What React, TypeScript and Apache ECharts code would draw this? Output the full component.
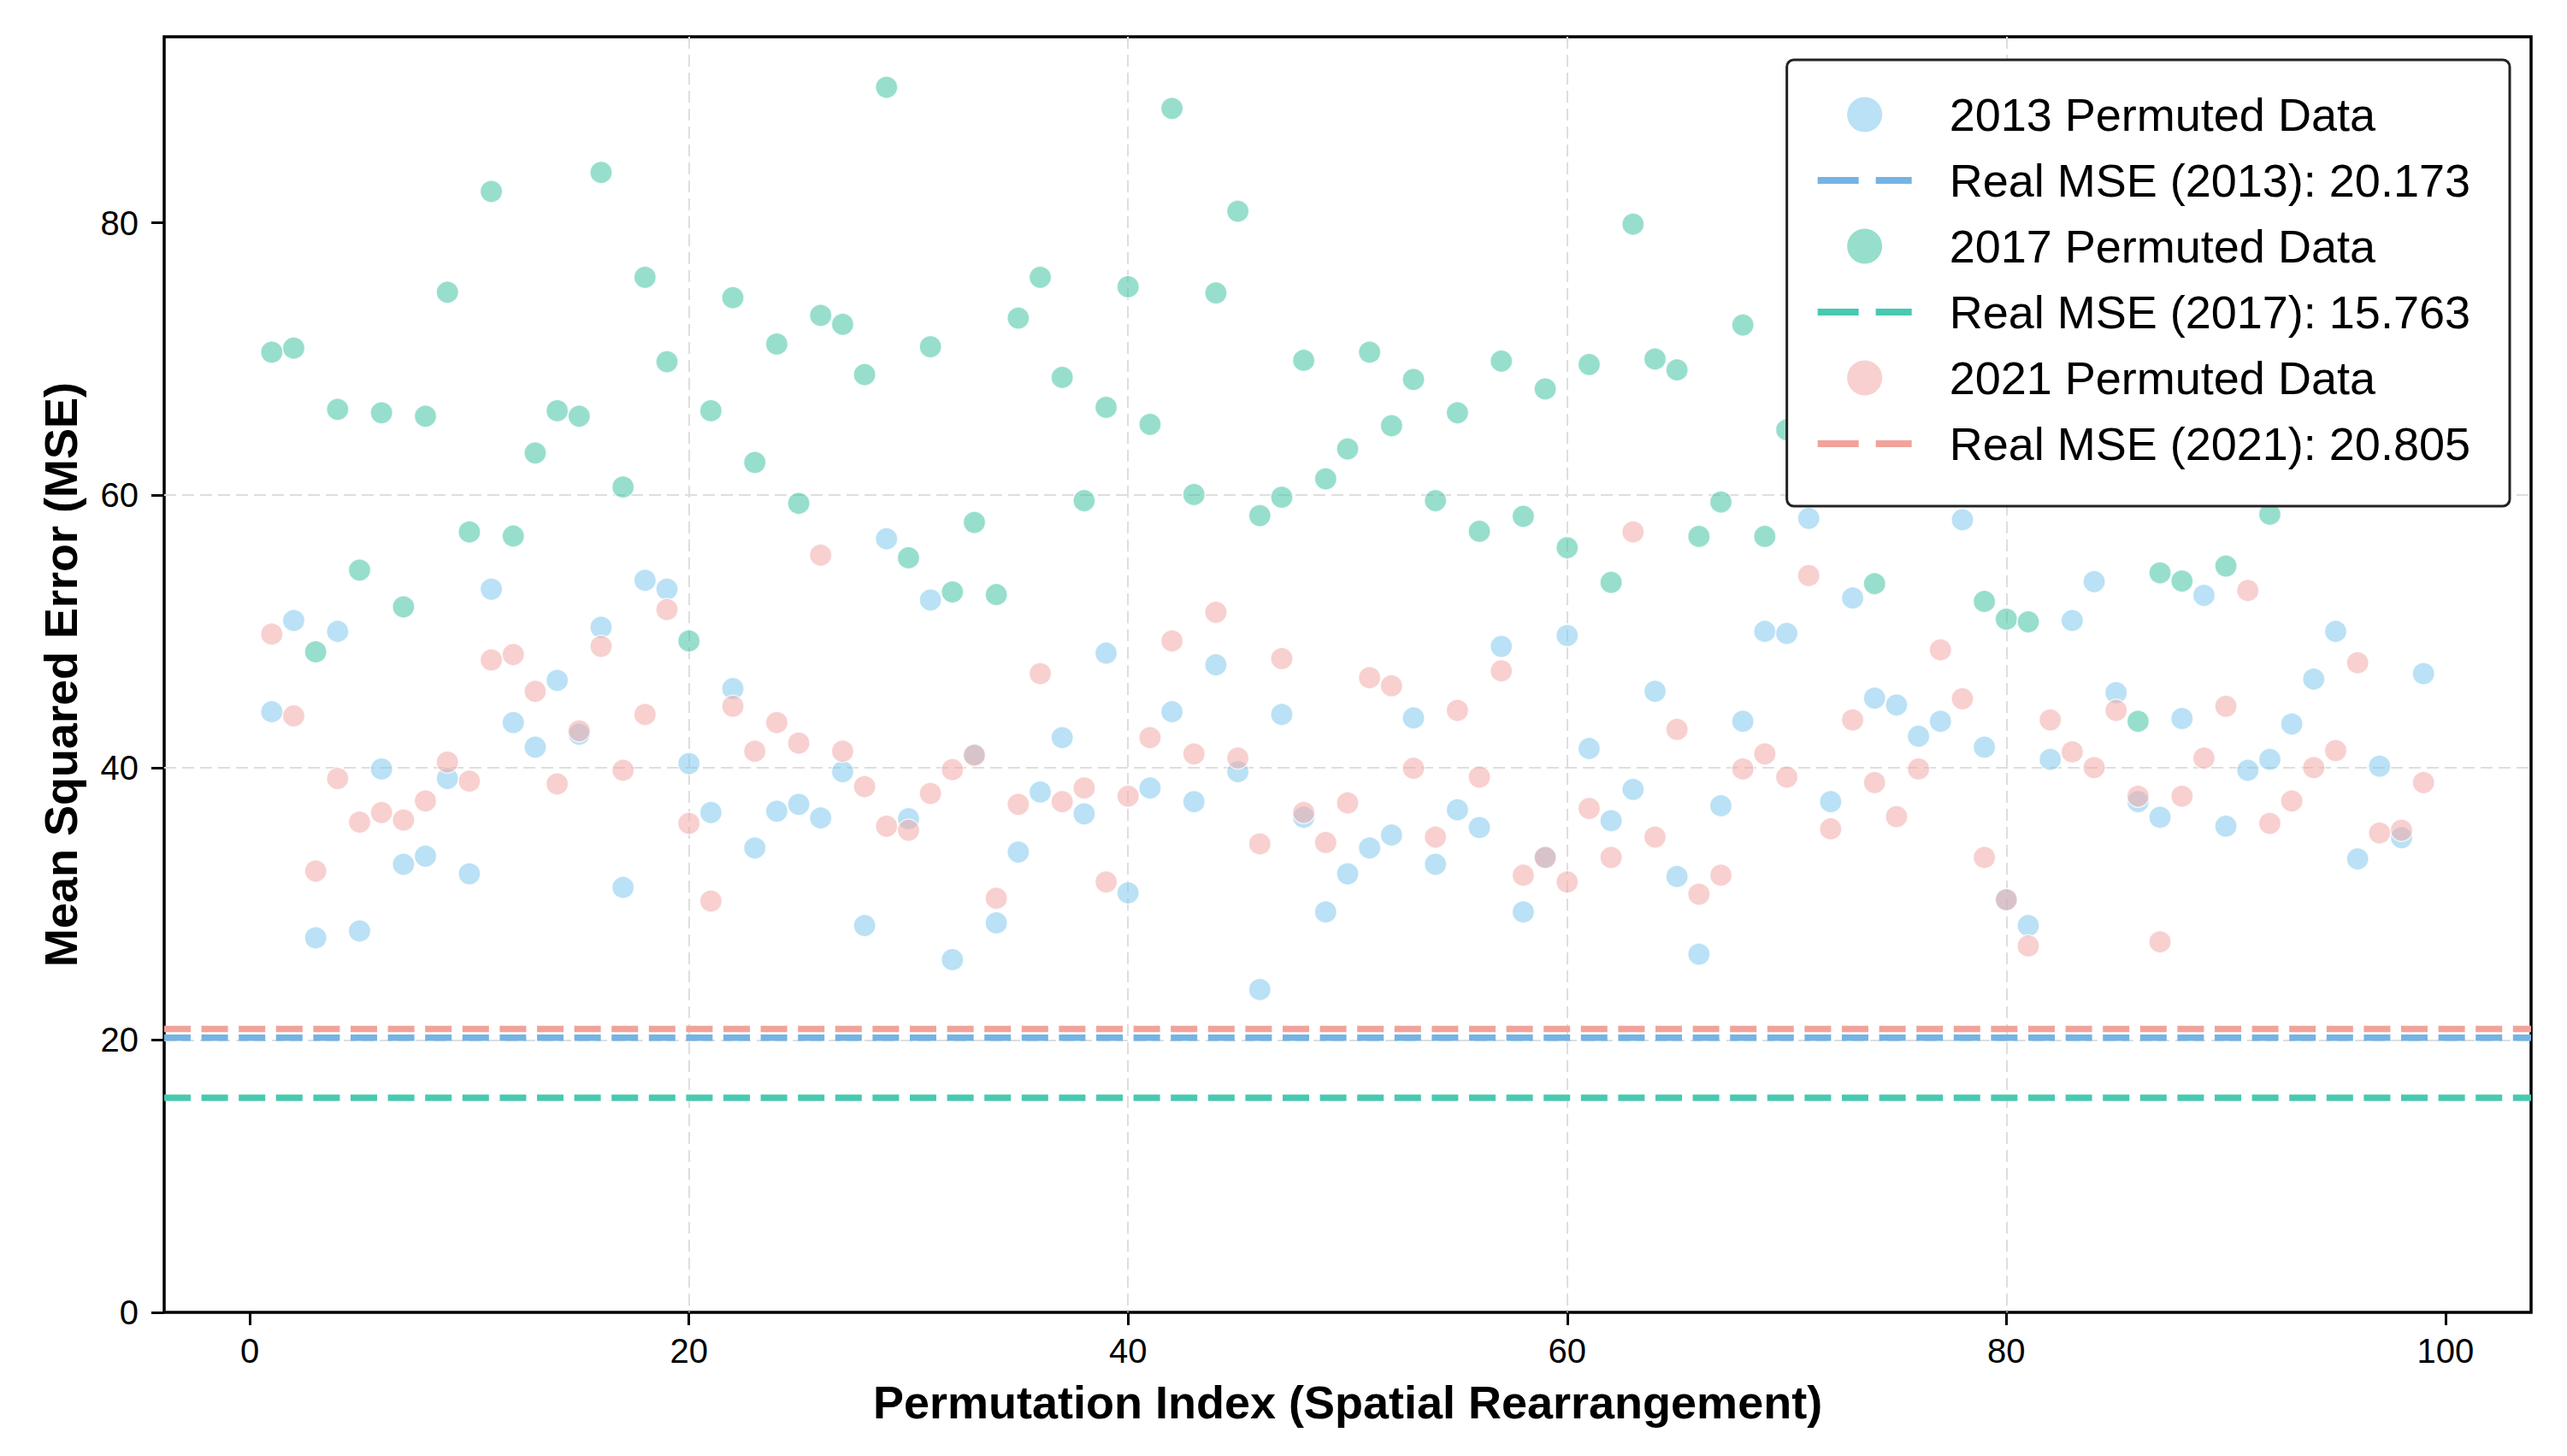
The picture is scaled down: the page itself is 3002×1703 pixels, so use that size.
import React, { useEffect, useRef } from "react";
import * as echarts from "echarts";

// ---------------- data ----------------
const PERM_INDEX: number[] = Array.from({ length: 99 }, (_, i) => i + 1);

const MSE_2013: number[] = [
  44.1, 50.8, 27.5, 50.0, 28.0, 39.9, 32.9, 33.5, 39.2, 32.2,
  53.1, 43.3, 41.5, 46.4, 42.45, 50.3, 31.2, 53.75, 53.1, 40.3,
  36.7, 45.8, 34.1, 36.8, 37.3, 36.3, 39.7, 28.4, 56.8, 36.25,
  52.3, 25.9, 40.96, 28.6, 33.8, 38.2, 42.2, 36.6, 48.4, 30.8,
  38.5, 44.1, 37.5, 47.55, 39.7, 23.7, 43.9, 36.35, 29.4, 32.2,
  34.1, 35.05, 43.65, 32.9, 36.9, 35.6, 48.9, 29.4, 33.4, 49.7,
  41.4, 36.1, 38.4, 45.6, 32.0, 26.3, 37.2, 43.4, 50.0, 49.85,
  58.3, 37.5, 52.45, 45.1, 44.6, 42.3, 43.4, 58.2, 41.5, 30.3,
  28.4, 40.6, 50.8, 53.65, 45.5, 37.5, 36.35, 43.6, 52.65, 35.7,
  39.8, 40.6, 43.2, 46.5, 50.0, 33.3, 40.1, 34.85, 46.9,
];

const MSE_2017: number[] = [
  70.5, 70.8, 48.5, 66.3, 54.5, 66.05, 51.8, 65.8, 74.9, 57.3,
  82.3, 57.0, 63.1, 66.2, 65.8, 83.7, 60.6, 76.0, 69.8, 49.3,
  66.2, 74.5, 62.4, 71.1, 59.4, 73.2, 72.55, 68.85, 89.95, 55.4,
  70.9, 52.9, 58.0, 52.7, 73.0, 76.0, 68.65, 59.6, 66.45, 75.3,
  65.2, 88.4, 60.05, 74.85, 80.85, 58.5, 59.85, 69.9, 61.2, 63.4,
  70.5, 65.1, 68.5, 59.6, 66.05, 57.35, 69.85, 58.45, 67.8, 56.15,
  69.6, 53.6, 79.9, 70.0, 69.2, 56.97, 59.5, 72.5, 56.97, 64.8,
  68.2, 74.6, 63.9, 53.5, 77.3, 66.8, 71.5, 62.4, 52.2, 50.9,
  50.7, 69.1, 75.8, 64.7, 72.3, 43.4, 54.3, 53.7, 67.5, 54.8,
  79.2, 58.6, 65.3, 70.8, 62.9, 74.1, 68.6, 76.4, 63.7,
];

const MSE_2021: number[] = [
  49.8, 43.8, 32.4, 39.2, 36.0, 36.7, 36.15, 37.55, 40.4, 39.0,
  47.9, 48.3, 45.6, 38.8, 42.7, 48.9, 39.8, 43.9, 51.6, 35.9,
  30.2, 44.5, 41.2, 43.3, 41.8, 55.6, 41.2, 38.6, 35.7, 35.4,
  38.1, 39.85, 40.9, 30.4, 37.3, 46.9, 37.5, 38.5, 31.6, 37.9,
  42.2, 49.3, 41.0, 51.4, 40.7, 34.4, 48.0, 36.7, 34.5, 37.4,
  46.6, 46.0, 39.95, 34.9, 44.2, 39.3, 47.1, 32.1, 33.4, 31.6,
  37.0, 33.4, 57.3, 34.9, 42.8, 30.7, 32.1, 39.9, 41.0, 39.3,
  54.1, 35.5, 43.5, 38.9, 36.4, 39.9, 48.65, 45.05, 33.4, 30.3,
  26.9, 43.5, 41.15, 40.0, 44.2, 37.9, 27.2, 37.9, 40.7, 44.5,
  53.0, 35.9, 37.55, 40.0, 41.25, 47.7, 35.2, 35.4, 38.9,
];

const REAL_MSE_2013 = 20.173;
const REAL_MSE_2017 = 15.763;
const REAL_MSE_2021 = 20.805;

const X_TICKS: number[] = [0, 20, 40, 60, 80, 100];
const Y_TICKS: number[] = [0, 20, 40, 60, 80];
const X_MIN = -3.9;
const X_MAX = 103.9;
const Y_MIN = 0;
const Y_MAX = 93.66;

const NAME_P13 = "2013 Permuted Data";
const NAME_L13 = `Real MSE (2013): ${REAL_MSE_2013.toFixed(3)}`;
const NAME_P17 = "2017 Permuted Data";
const NAME_L17 = `Real MSE (2017): ${REAL_MSE_2017.toFixed(3)}`;
const NAME_P21 = "2021 Permuted Data";
const NAME_L21 = `Real MSE (2021): ${REAL_MSE_2021.toFixed(3)}`;

const COLOR_P13 = "rgba(132,202,238,0.7)";
const COLOR_P17 = "rgba(69,196,165,0.7)";
const COLOR_P21 = "rgba(241,172,169,0.7)";
const COLOR_L13 = "#74b3e4";
const COLOR_L17 = "#48c9b0";
const COLOR_L21 = "#f1a39a";

const FONT = "'Liberation Sans', Arial, Helvetica, sans-serif";
const DASH_ICON = "path://M0,0H48V8H0Z M68,0H110V8H68Z";

function pairs(values: number[]): number[][] {
  return PERM_INDEX.map((x, i) => [x, values[i]]);
}

export default function App() {
  const ref = useRef<HTMLDivElement | null>(null);

  useEffect(() => {
    if (!ref.current) return;
    const chart = echarts.init(ref.current, null, { renderer: "svg" });

    const scatter = (name: string, values: number[], color: string) => ({
      type: "scatter",
      name,
      data: pairs(values),
      symbolSize: 26,
      silent: true,
      itemStyle: {
        color,
        borderColor: "rgba(255,255,255,0.9)",
        borderWidth: 1.5,
      },
      z: 2,
    });

    const hline = (name: string, value: number, color: string) => ({
      type: "line",
      name,
      data: [
        [X_MIN, value],
        [X_MAX, value],
      ],
      symbol: "none",
      silent: true,
      lineStyle: { color, width: 7.5, type: [31, 12.6] },
      itemStyle: { color },
      z: 3,
    });

    const legendPoint = (name: string, color: string) => ({
      name,
      icon: "circle",
      itemStyle: { color, borderWidth: 0 },
    });

    const legendLine = (name: string, color: string) => ({
      name,
      icon: DASH_ICON,
      itemStyle: { color, borderWidth: 0 },
    });

    const axisNameStyle = {
      fontFamily: FONT,
      fontSize: 54,
      fontWeight: "bold",
      color: "#000",
    };

    const option: any = {
      animation: false,
      backgroundColor: "#ffffff",
      grid: {
        left: 192,
        right: 42,
        top: 43,
        bottom: 168,
        show: true,
        borderColor: "#000",
        borderWidth: 3.5,
        backgroundColor: "transparent",
        outerBoundsMode: "none",
      },
      xAxis: {
        type: "value",
        min: X_MIN,
        max: X_MAX,
        name: "Permutation Index (Spatial Rearrangement)",
        nameLocation: "middle",
        nameGap: 78,
        nameTextStyle: axisNameStyle,
        axisLine: { show: false, onZero: false },
        axisTick: {
          show: true,
          length: 15,
          customValues: X_TICKS,
          lineStyle: { color: "#000", width: 3 },
        },
        axisLabel: {
          customValues: X_TICKS,
          fontFamily: FONT,
          fontSize: 40,
          color: "#000",
          margin: 25,
        },
        splitLine: {
          show: true,
          showMinLine: false,
          showMaxLine: false,
          lineStyle: { color: "#dedede", width: 2, type: [14, 7] },
        },
      },
      yAxis: {
        type: "value",
        min: Y_MIN,
        max: Y_MAX,
        name: "Mean Squared Error (MSE)",
        nameLocation: "middle",
        nameGap: 94,
        nameTextStyle: axisNameStyle,
        axisLine: { show: false, onZero: false },
        axisTick: {
          show: true,
          length: 15,
          customValues: Y_TICKS,
          lineStyle: { color: "#000", width: 3 },
        },
        axisLabel: {
          customValues: Y_TICKS,
          fontFamily: FONT,
          fontSize: 40,
          color: "#000",
          margin: 30,
        },
        splitLine: {
          show: true,
          showMinLine: false,
          showMaxLine: false,
          lineStyle: { color: "#dedede", width: 2, type: [14, 7] },
        },
      },
      legend: {
        orient: "vertical",
        right: 67,
        top: 70,
        backgroundColor: "#ffffff",
        borderColor: "#222",
        borderWidth: 3,
        borderRadius: 8,
        padding: [37, 46, 46, 36],
        itemWidth: 110,
        itemHeight: 41,
        itemGap: 23,
        symbolKeepAspect: true,
        selectedMode: false,
        textStyle: {
          fontFamily: FONT,
          fontSize: 54,
          lineHeight: 51,
          color: "#000",
          padding: [0, 0, 0, 39],
        },
        data: [
          legendPoint(NAME_P13, COLOR_P13),
          legendLine(NAME_L13, COLOR_L13),
          legendPoint(NAME_P17, COLOR_P17),
          legendLine(NAME_L17, COLOR_L17),
          legendPoint(NAME_P21, COLOR_P21),
          legendLine(NAME_L21, COLOR_L21),
        ],
      },
      series: [
        scatter(NAME_P13, MSE_2013, COLOR_P13),
        hline(NAME_L13, REAL_MSE_2013, COLOR_L13),
        scatter(NAME_P17, MSE_2017, COLOR_P17),
        hline(NAME_L17, REAL_MSE_2017, COLOR_L17),
        scatter(NAME_P21, MSE_2021, COLOR_P21),
        hline(NAME_L21, REAL_MSE_2021, COLOR_L21),
      ],
    };

    chart.setOption(option);
    return () => {
      chart.dispose();
    };
  }, []);

  return (
    <div
      ref={ref}
      style={{
        position: "absolute",
        left: 0,
        top: 0,
        width: "3002px",
        height: "1703px",
        background: "#fff",
      }}
    />
  );
}
